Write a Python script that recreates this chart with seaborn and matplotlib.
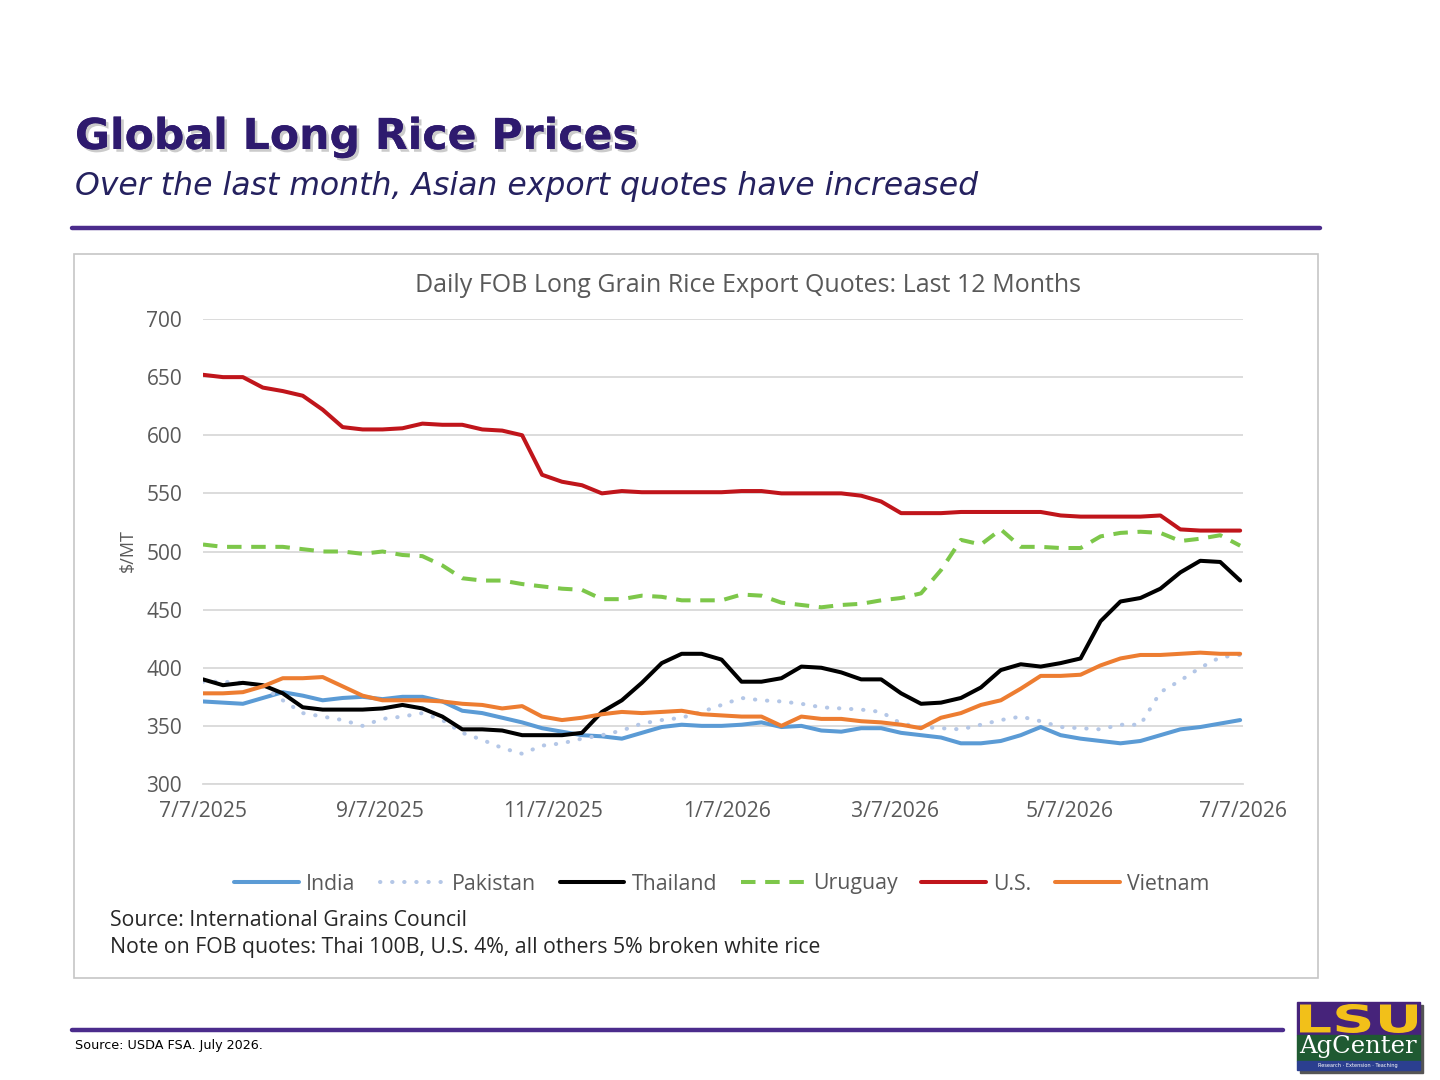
import matplotlib
matplotlib.use('Agg')
import matplotlib.pyplot as plt
import matplotlib.patheffects as pe
from matplotlib.patches import Rectangle, PathPatch
from matplotlib.textpath import TextPath
from matplotlib.font_manager import FontProperties
from matplotlib.transforms import Affine2D, IdentityTransform
import pandas as pd
import seaborn as sns

# weekly quotes, $/MT (7/7/2025 .. 7/6/2026)
start_date = '2025-07-07'
india = [371, 370, 369, 374, 379, 376, 372, 374, 375, 373, 375, 375, 371, 363,
         361, 357, 353, 348, 345, 342, 341, 339, 344, 349, 351, 350, 350, 351,
         353, 349, 350, 346, 345, 348, 348, 344, 342, 340, 335, 335, 337, 342,
         349, 342, 339, 337, 335, 337, 342, 347, 349, 352, 355]
pakistan = [388, 388, 387, 384, 372, 361, 358, 355, 350, 356, 358, 361, 355, 344,
            338, 331, 326, 333, 335, 339, 342, 346, 352, 355, 357, 362, 368, 374,
            372, 371, 369, 366, 365, 364, 362, 352, 349, 348, 347, 351, 355, 358,
            354, 349, 348, 347, 351, 351, 379, 389, 400, 409, 411]
thailand = [390, 385, 387, 385, 378, 366, 364, 364, 364, 365, 368, 365, 358, 347,
            347, 346, 342, 342, 342, 344, 362, 372, 387, 404, 412, 412, 407, 388,
            388, 391, 401, 400, 396, 390, 390, 378, 369, 370, 374, 383, 398, 403,
            401, 404, 408, 440, 457, 460, 468, 482, 492, 491, 475]
uruguay = [506, 504, 504, 504, 504, 502, 500, 500, 498, 500, 497, 496, 488, 477,
           475, 475, 472, 470, 468, 467, 459, 459, 462, 461, 458, 458, 458, 463,
           462, 456, 454, 452, 454, 455, 458, 460, 464, 484, 510, 506, 519, 504,
           504, 503, 503, 513, 516, 517, 516, 509, 511, 514, 505]
us = [652, 650, 650, 641, 638, 634, 622, 607, 605, 605, 606, 610, 609, 609,
      605, 604, 600, 566, 560, 557, 550, 552, 551, 551, 551, 551, 551, 552,
      552, 550, 550, 550, 550, 548, 543, 533, 533, 533, 534, 534, 534, 534,
      534, 531, 530, 530, 530, 530, 531, 519, 518, 518, 518]
vietnam = [378, 378, 379, 384, 391, 391, 392, 384, 376, 372, 372, 372, 371, 369,
           368, 365, 367, 358, 355, 357, 360, 362, 361, 362, 363, 360, 359, 358,
           358, 350, 358, 356, 356, 354, 353, 351, 348, 357, 361, 368, 372, 382,
           393, 393, 394, 402, 408, 411, 411, 412, 413, 412, 412]

tick_dates = ['2025-07-07', '2025-09-07', '2025-11-07', '2026-01-07',
              '2026-03-07', '2026-05-07', '2026-07-07']
tick_labels = ['7/7/2025', '9/7/2025', '11/7/2025', '1/7/2026',
               '3/7/2026', '5/7/2026', '7/7/2026']

dates = pd.date_range(start_date, periods=len(india), freq='7D')
series = [
    ('India', india, '#5b9bd5', '-'),
    ('Pakistan', pakistan, '#b4c7e7', (0, (0.1, 2.9))),
    ('Thailand', thailand, '#000000', '-'),
    ('Uruguay', uruguay, '#7dc74a', (0, (3.6, 2.4))),
    ('U.S.', us, '#c0151b', '-'),
    ('Vietnam', vietnam, '#ed7d31', '-'),
]

sns.set_style('white')
plt.rcParams['font.family'] = ['Open Sans', 'DejaVu Sans']
gray = '#595959'

fig = plt.figure(figsize=(14.4, 10.8), dpi=100)
W, H = 1440, 1080


def fx(px):
    return px / W


def fy(py):
    return 1 - py / H


# slide header
title = fig.text(fx(75), fy(137), 'Global Long Rice Prices', fontsize=30.7, fontweight='bold',
                 color='#2e1a6e', family='DejaVu Sans', va='center', ha='left')
title.set_path_effects([pe.withSimplePatchShadow(offset=(2, -2), shadow_rgbFace='#999999', alpha=0.5),
                        pe.Normal()])
fig.text(fx(75), fy(187), 'Over the last month, Asian export quotes have increased', fontsize=22.7,
         style='italic', color='#25215f', family='DejaVu Sans', va='center', ha='left')
fig.add_artist(plt.Line2D([fx(72), fx(1320)], [fy(228), fy(228)], color='#4b2c8c', lw=3.2))

# chart frame
fig.add_artist(Rectangle((fx(74), fy(978)), fx(1318) - fx(74), fy(254) - fy(978),
                         transform=fig.transFigure, fill=False, edgecolor='#c6c6c6', lw=1.2))

ax = fig.add_axes([fx(203), fy(784), fx(1243) - fx(203), fy(319) - fy(784)])
for name, vals, color, ls in series:
    sns.lineplot(x=dates, y=vals, ax=ax, color=color, lw=2.9, linestyle=ls,
                 dash_capstyle='round' if name == 'Pakistan' else 'butt', label=name, legend=False)

ax.set_ylim(300, 700)
ax.set_yticks(range(300, 701, 50))
ax.set_xlim(pd.Timestamp(tick_dates[0]), pd.Timestamp(tick_dates[-1]))
ax.set_xticks(pd.to_datetime(tick_dates))
ax.set_xticklabels(tick_labels)
ax.grid(axis='y', color='#d9d9d9', lw=1.3)
ax.set_axisbelow(True)
for s in ['top', 'right', 'left']:
    ax.spines[s].set_visible(False)
ax.spines['bottom'].set_color('#d9d9d9')
ax.spines['bottom'].set_linewidth(1.3)
ax.tick_params(axis='y', length=0, pad=15, labelsize=15, labelcolor=gray)
ax.tick_params(axis='x', length=6, width=1.3, color='#d9d9d9', pad=6, labelsize=15.2, labelcolor=gray)
ax.set_xlabel('')
ax.set_ylabel('')

fig.text(fx(748), fy(285), 'Daily FOB Long Grain Rice Export Quotes: Last 12 Months',
         fontsize=18, color=gray, ha='center', va='center')
fig.text(fx(128), fy(551), '$/MT', fontsize=13, color=gray, rotation=90, ha='center', va='center')

handles, labels = ax.get_legend_handles_labels()
fig.legend(handles, labels, loc='center', bbox_to_anchor=(fx(722), fy(884)), ncol=6, frameon=False,
           fontsize=15.3, handlelength=3.05, handletextpad=0.33, columnspacing=1.13, labelcolor=gray)

fig.text(fx(110), fy(920), 'Source: International Grains Council', fontsize=15.3, color='#262626',
         ha='left', va='center')
fig.text(fx(110), fy(948), 'Note on FOB quotes: Thai 100B, U.S. 4%, all others 5% broken white rice',
         fontsize=15.3, color='#262626', ha='left', va='center')

# footer
fig.add_artist(plt.Line2D([fx(72), fx(1283)], [fy(1030), fy(1030)], color='#4b2c8c', lw=3.2))
fig.text(fx(75), fy(1046), 'Source: USDA FSA. July 2026.', fontsize=9.2, color='black',
         ha='left', va='center', family='DejaVu Sans')

# LSU AgCenter logo
fig.add_artist(Rectangle((fx(1300), fy(1073)), fx(1423) - fx(1300), fy(1005) - fy(1073),
                         transform=fig.transFigure, color='#555555'))
fig.add_artist(Rectangle((fx(1297), fy(1035)), fx(1420) - fx(1297), fy(1002) - fy(1035),
                         transform=fig.transFigure, color='#46237a'))
fig.add_artist(Rectangle((fx(1297), fy(1061)), fx(1420) - fx(1297), fy(1035) - fy(1061),
                         transform=fig.transFigure, color='#1f5a32'))
fig.add_artist(Rectangle((fx(1297), fy(1070)), fx(1420) - fx(1297), fy(1061) - fy(1070),
                         transform=fig.transFigure, color='#2b3f8f'))

# stretched "LSU" block letters filling the purple band
tp = TextPath((0, 0), 'LSU', size=40, prop=FontProperties(family='DejaVu Sans', weight='bold'))
ext = tp.get_extents()
x0, x1, y0, y1 = 1300, 1417, H - 1033, H - 1004
stretch = Affine2D().translate(-ext.x0, -ext.y0).scale((x1 - x0) / ext.width,
                                                       (y1 - y0) / ext.height).translate(x0, y0)
fig.add_artist(PathPatch(stretch.transform_path(tp), transform=IdentityTransform(),
                         color='#f2c019', lw=0))

fig.text(fx(1358), fy(1047), 'AgCenter', fontsize=17.5, color='white', ha='center', va='center',
         family='DejaVu Serif')
fig.text(fx(1358), fy(1065.5), 'Research · Extension · Teaching', fontsize=3.6, color='white',
         ha='center', va='center', family='DejaVu Sans')

fig.savefig('out.png', dpi=100)
